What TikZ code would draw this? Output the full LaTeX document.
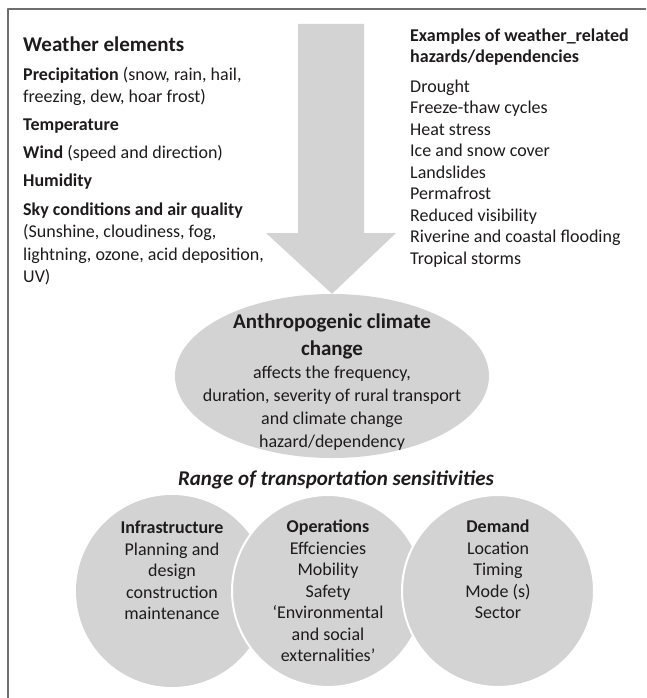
\documentclass[tikz,border=0pt]{standalone}
\usepackage{fontspec}
\setmainfont{Carlito}
\usetikzlibrary{positioning,shapes.geometric}
\definecolor{greyfill}{RGB}{211,211,212}
\definecolor{ink}{RGB}{30,27,28}
\definecolor{rule}{RGB}{110,110,110}
\newcommand{\bighead}{\fontsize{21}{26}\selectfont\bfseries}
\begin{document}
\begin{tikzpicture}[line cap=round,line join=round,x=1pt,y=-1pt,
		txt/.style={inner sep=0pt,text=ink,align=left,font=\fontsize{18}{21.5}\selectfont},
		blob/.style={ellipse,fill=greyfill,inner sep=0pt},
		sens/.style={circle,fill=greyfill,minimum size=192pt,inner sep=0pt},
		senstxt/.style={inner sep=0pt,text=ink,align=center,font=\fontsize{18}{21.5}\selectfont}]
		\useasboundingbox (0,0) rectangle (646,698);
		\draw[rule,line width=1.3pt,line cap=butt] (8,698)--(8,9)--(646,9);
		% left and right columns
		\node[txt,font=\fontsize{18}{22.6}\selectfont,anchor=north west] (weather) at (23,37) {{\bighead Weather elements}\\[5.5pt]
			\textbf{Precipitation} (snow, rain, hail,\\
			freezing, dew, hoar frost)\\[5.5pt]
			\textbf{Temperature}\\[5.5pt]
			\textbf{Wind} (speed and direction)\\[5.5pt]
			\textbf{Humidity}\\[5.5pt]
			\textbf{Sky conditions and air quality}\\
			(Sunshine, cloudiness, fog,\\
			lightning, ozone, acid deposition,\\
			UV)};
		\node[txt,anchor=north west] (hazards) at (410,28.5) {\textbf{Examples of weather\_related}\\
			\textbf{hazards/dependencies}\\[8pt]
			Drought\\ Freeze-thaw cycles\\ Heat stress\\ Ice and snow cover\\ Landslides\\
			Permafrost\\ Reduced visibility\\ Riverine and coastal flooding\\ Tropical storms};
		% climate change
		\node[blob,minimum width=314pt,minimum height=164pt] (cc) at (332,376) {};
		\node[senstxt,font=\fontsize{18}{23}\selectfont] (cctxt) at (332,382) {{\bighead Anthropogenic climate}\\[3.5pt]
			{\bighead change}\\
			affects the frequency,\\ duration, severity of rural transport\\ and climate change\\ hazard/dependency};
		\fill[greyfill] (298,24)--(364,24)--(364,233)--(396,233)--(cc.north)--(266,233)--(298,233)--cycle;
		\node[inner sep=0pt,text=ink,font=\fontsize{21}{25}\selectfont\bfseries\itshape] (range) at (336,480) {Range of transportation sensitivities};
		% sensitivities
		\node[sens] (infra) at (172,591) {};
		\node[sens,draw=white,line width=2pt] (oper) at (328,591) {};
		\node[sens,draw=white,line width=2pt] (demand) at (498,591) {};
		\node[senstxt,below=26pt of infra.north] (infratxt) {\textbf{Infrastructure}\\ Planning and\\ design\\ construction\\ maintenance};
		\node[senstxt,below=26pt of oper.north] (opertxt) {\textbf{Operations}\\ Effciencies\\ Mobility\\ Safety\\ `Environmental\\ and social\\ externalities'};
		\node[senstxt,below=26pt of demand.north] (demandtxt) {\textbf{Demand}\\ Location\\ Timing\\ Mode (s)\\ Sector};
	\end{tikzpicture}
\end{document}
